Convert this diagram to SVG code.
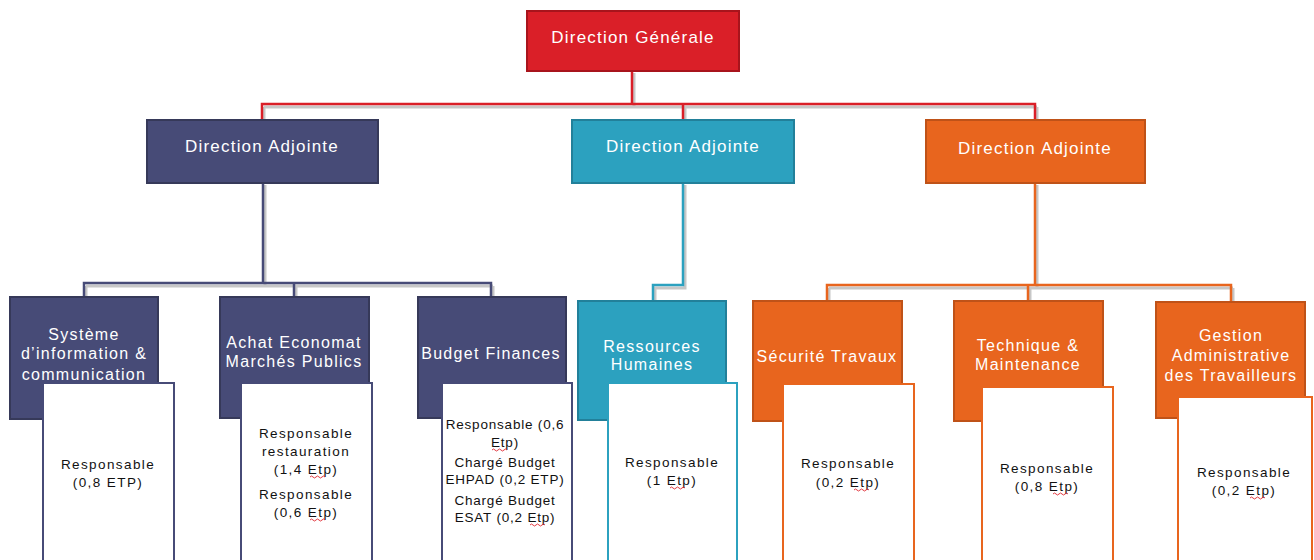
<svg xmlns="http://www.w3.org/2000/svg" width="1314" height="560" viewBox="0 0 1314 560">
<style>
text{font-family:"Liberation Sans",Arial,sans-serif;text-anchor:middle}
.hd{fill:#fff;font-size:16px;letter-spacing:1.3px}
.top{font-size:17px;letter-spacing:1.2px}
.bd{fill:#111;font-size:13.5px;letter-spacing:1.4px}
.bs{letter-spacing:0.8px}
.red{fill:#DA1F28;stroke:#A8141C;stroke-width:2}
.nav{fill:#474B77;stroke:#363959;stroke-width:2}
.teal{fill:#2CA1BF;stroke:#22809A;stroke-width:2}
.org{fill:#E8651E;stroke:#BF5218;stroke-width:2}
.wn{fill:#fff;stroke:#474B77;stroke-width:2}
.wt{fill:#fff;stroke:#2CA1BF;stroke-width:2}
.wo{fill:#fff;stroke:#E8651E;stroke-width:2}
.sh{fill:none;stroke:#000;stroke-opacity:0.22;stroke-width:3}
.cl{fill:none;stroke-width:2.5}
.sq{fill:none;stroke:#E0242C;stroke-width:0.9}
</style>
<g id="connectors">
  <path class="sh" d="M634 73 V107 M264 107 H1037 M264 107 V120 M685 107 V120 M1037 107 V120"/>
  <path class="cl" stroke="#DA1F28" d="M632 71 V104 H262 V120 M632 104 H1035 V120 M683 104 V120"/>
  <path class="sh" d="M265 185 V286 M86 286 H493 M86 286 V297 M296 286 V297 M493 286 V297"/>
  <path class="cl" stroke="#474B77" stroke-width="3" d="M263 183 V283 M84 297 V283 H491 V297 M294 283 V297"/>
  <path class="sh" d="M685 185 V288 H655 V301"/>
  <path class="cl" stroke="#2CA1BF" d="M683 183 V285 H653 V301"/>
  <path class="sh" d="M1037 185 V288 M829 288 H1233 M829 288 V301 M1030 288 V301 M1233 288 V302"/>
  <path class="cl" stroke="#E8651E" d="M1035 183 V285 M827 301 V285 H1231 V302 M1028 285 V301"/>
</g>
<g id="dg"><rect class="red" x="527" y="11" width="212" height="60"/><text class="hd top" x="633" y="43">Direction Générale</text></g>
<g id="da-left"><rect class="nav" x="147" y="120" width="231" height="63"/><text class="hd top" x="262" y="152">Direction Adjointe</text></g>
<g id="da-mid"><rect class="teal" x="572" y="120" width="222" height="63"/><text class="hd top" x="683" y="152">Direction Adjointe</text></g>
<g id="da-right"><rect class="org" x="926" y="120" width="219" height="63"/><text class="hd top" x="1035" y="154">Direction Adjointe</text></g>

<g id="sic">
  <rect class="nav" x="10" y="297" width="148" height="122"/>
  <text class="hd" x="84" y="340">Système</text>
  <text class="hd" x="84" y="359">d’information &amp;</text>
  <text class="hd" x="84" y="380">communication</text>
  <rect class="wn" x="43" y="383" width="131" height="185"/>
  <text class="bd" x="108" y="469">Responsable</text>
  <text class="bd" x="108" y="487">(0,8 ETP)</text>
</g>
<g id="achat">
  <rect class="nav" x="220" y="297" width="149" height="121"/>
  <text class="hd" x="294" y="348">Achat Economat</text>
  <text class="hd" x="294" y="367">Marchés Publics</text>
  <rect class="wn" x="241" y="383" width="131" height="185"/>
  <text class="bd" x="306" y="438">Responsable</text>
  <text class="bd" x="306" y="456">restauration</text>
  <text class="bd" x="306" y="474">(1,4 Etp)</text>
  <text class="bd" x="306" y="499">Responsable</text>
  <text class="bd" x="306" y="517">(0,6 Etp)</text>
  <path class="sq" d="M310 477 q1.5 -2 3 0 t3 0 t3 0 t3 0 t3 0 M310 520 q1.5 -2 3 0 t3 0 t3 0 t3 0 t3 0"/>
</g>
<g id="budget">
  <rect class="nav" x="418" y="297" width="148" height="121"/>
  <text class="hd" x="491" y="359">Budget Finances</text>
  <rect class="wn" x="442" y="383" width="130" height="185"/>
  <text class="bd bs" x="505" y="429">Responsable (0,6</text>
  <text class="bd bs" x="505" y="447">Etp)</text>
  <text class="bd bs" x="505" y="467">Chargé Budget</text>
  <text class="bd bs" x="505" y="484">EHPAD (0,2 ETP)</text>
  <text class="bd bs" x="505" y="505">Chargé Budget</text>
  <text class="bd bs" x="505" y="522">ESAT (0,2 Etp)</text>
  <path class="sq" d="M492 450 q1.5 -2 3 0 t3 0 t3 0 t3 0 t3 0 M530 525 q1.5 -2 3 0 t3 0 t3 0 t3 0 t3 0"/>
</g>
<g id="rh">
  <rect class="teal" x="578" y="301" width="148" height="119"/>
  <text class="hd" x="652" y="352">Ressources</text>
  <text class="hd" x="652" y="370">Humaines</text>
  <rect class="wt" x="608" y="383" width="129" height="185"/>
  <text class="bd" x="672" y="467">Responsable</text>
  <text class="bd" x="672" y="485">(1 Etp)</text>
  <path class="sq" d="M670 488 q1.5 -2 3 0 t3 0 t3 0 t3 0 t3 0"/>
</g>
<g id="securite">
  <rect class="org" x="753" y="301" width="149" height="120"/>
  <text class="hd" x="827" y="362">Sécurité Travaux</text>
  <rect class="wo" x="783" y="384" width="131" height="184"/>
  <text class="bd" x="848" y="468">Responsable</text>
  <text class="bd" x="848" y="487">(0,2 Etp)</text>
  <path class="sq" d="M854 490 q1.5 -2 3 0 t3 0 t3 0 t3 0 t3 0"/>
</g>
<g id="technique">
  <rect class="org" x="954" y="301" width="149" height="120"/>
  <text class="hd" x="1028" y="351">Technique &amp;</text>
  <text class="hd" x="1028" y="370">Maintenance</text>
  <rect class="wo" x="982" y="387" width="131" height="181"/>
  <text class="bd" x="1047" y="473">Responsable</text>
  <text class="bd" x="1047" y="491">(0,8 Etp)</text>
  <path class="sq" d="M1053 494 q1.5 -2 3 0 t3 0 t3 0 t3 0 t3 0"/>
</g>
<g id="gestion">
  <rect class="org" x="1156" y="302" width="149" height="116"/>
  <text class="hd" x="1231" y="341">Gestion</text>
  <text class="hd" x="1231" y="361">Administrative</text>
  <text class="hd" x="1231" y="381">des Travailleurs</text>
  <rect class="wo" x="1178" y="397" width="134" height="171"/>
  <text class="bd" x="1244" y="477">Responsable</text>
  <text class="bd" x="1244" y="495">(0,2 Etp)</text>
  <path class="sq" d="M1250 498 q1.5 -2 3 0 t3 0 t3 0 t3 0 t3 0"/>
</g>
</svg>
